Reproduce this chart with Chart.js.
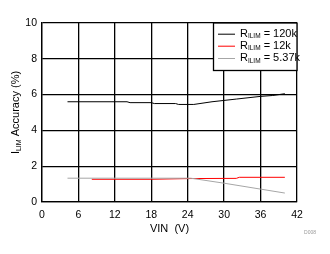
<!DOCTYPE html>
<html>
<head>
<meta charset="utf-8">
<script src="https://cdn.jsdelivr.net/npm/chart.js@4.4.1/dist/chart.umd.min.js"></script>
<style>
  html, body { margin: 0; padding: 0; background: #fff; }
  #wrap { width: 330px; height: 254px; position: relative; }
</style>
</head>
<body>
<div id="wrap"><canvas id="c" width="330" height="254"></canvas></div>
<script>
// data
var xTicks = [0, 6, 12, 18, 24, 30, 36, 42];
var yTicks = [0, 2, 4, 6, 8, 10];

var vin120k = [4.2, 14, 14.5, 18, 18.5, 22, 22.5, 25, 28, 32, 36, 38, 40];
var acc120k = [5.6, 5.6, 5.55, 5.55, 5.5, 5.5, 5.45, 5.45, 5.6, 5.75, 5.9, 5.95, 6.05];

var vin12k = [8.2, 18, 24.5, 32, 32.5, 40];
var acc12k = [1.27, 1.27, 1.31, 1.32, 1.38, 1.38];

var vin537k = [4.2, 24.5, 30, 36, 40];
var acc537k = [1.33, 1.33, 1.05, 0.72, 0.5];

var seriesNames = ['120k', '12k', '5.37k'];
var seriesColors = ['#000000', '#ff0000', '#a6a6a6'];

function pts(xs, ys) {
    return xs.map(function (x, i) { return { x: x, y: ys[i] }; });
}

var FONT = '"Liberation Sans", Arial, sans-serif';

var extras = {
    id: 'extras',
    afterDraw: function (chart) {
        var ctx = chart.ctx;
        var a = chart.chartArea;
        ctx.save();

        // y axis title with subscript
        ctx.translate(16, (a.top + a.bottom) / 2);
        ctx.rotate(-Math.PI / 2);
        ctx.fillStyle = '#000';
        ctx.textBaseline = 'middle';
        var big = '11px ' + FONT, small = '7px ' + FONT;
        ctx.font = big; var w1 = ctx.measureText('I').width;
        ctx.font = small; var w2 = ctx.measureText('LIM').width;
        ctx.font = big; var w3 = ctx.measureText(' Accuracy (%)').width;
        var x0 = -(w1 + w2 + w3) / 2;
        ctx.font = big; ctx.fillText('I', x0, 0);
        ctx.font = small; ctx.fillText('LIM', x0 + w1, 3);
        ctx.font = big; ctx.fillText(' Accuracy (%)', x0 + w1 + w2, 0);
        ctx.restore();

        // legend box
        ctx.save();
        var bx = 213.5, by = a.top, bw = a.right - 213.5, bh = 47.5;
        ctx.fillStyle = '#fff';
        ctx.fillRect(bx, by, bw, bh);
        ctx.strokeStyle = '#000';
        ctx.lineWidth = 1.3;
        ctx.strokeRect(bx, by, bw, bh);
        ctx.textBaseline = 'middle';
        var rows = [33.7, 45.7, 58];
        var lbig = '11px ' + FONT;
        seriesNames.forEach(function (n, i) {
            var y = rows[i];
            ctx.strokeStyle = seriesColors[i];
            ctx.lineWidth = 1;
            ctx.beginPath();
            ctx.moveTo(218, y + 0.5);
            ctx.lineTo(235, y + 0.5);
            ctx.stroke();
            ctx.fillStyle = '#000';
            var x = 240;
            ctx.font = lbig; ctx.fillText('R', x, y); x += ctx.measureText('R').width;
            ctx.font = '6.5px ' + FONT; ctx.fillText('ILIM', x, y + 3); x += ctx.measureText('ILIM').width;
            ctx.font = lbig; ctx.fillText(' = ' + n, x, y);
        });

        // figure id
        ctx.font = '5px ' + FONT;
        ctx.fillStyle = '#999';
        ctx.textAlign = 'right';
        ctx.fillText('D008', 316, 233);
        ctx.restore();
    }
};

new Chart(document.getElementById('c'), {
    type: 'scatter',
    data: {
        datasets: [
            { label: seriesNames[0], data: pts(vin120k, acc120k), borderColor: seriesColors[0], order: 0 },
            { label: seriesNames[1], data: pts(vin12k, acc12k), borderColor: seriesColors[1], order: 2 },
            { label: seriesNames[2], data: pts(vin537k, acc537k), borderColor: seriesColors[2], order: 1 }
        ].map(function (d) {
            d.showLine = true;
            d.borderWidth = 1;
            d.pointRadius = 0;
            d.tension = 0;
            d.fill = false;
            return d;
        })
    },
    options: {
        responsive: false,
        animation: false,
        devicePixelRatio: 1,
        layout: { padding: { top: 23, right: 33, left: 0, bottom: 14 } },
        plugins: { legend: { display: false }, tooltip: { enabled: false } },
        scales: {
            x: {
                type: 'linear', min: 0, max: 42,
                afterBuildTicks: function (s) { s.ticks = xTicks.map(function (v) { return { value: v }; }); },
                afterFit: function (s) { s.height = 38; },
                grid: { color: '#000', lineWidth: 1.3, drawTicks: false },
                border: { color: '#000', width: 1.3 },
                ticks: { color: '#000', padding: 7, font: { family: FONT, size: 10.5 } },
                title: { display: true, text: 'VIN  (V)', color: '#000', padding: { top: 0 }, font: { family: FONT, size: 11 } }
            },
            y: {
                type: 'linear', min: 0, max: 10,
                afterBuildTicks: function (s) { s.ticks = yTicks.map(function (v) { return { value: v }; }); },
                afterFit: function (s) { s.width = 42; },
                grid: { color: '#000', lineWidth: 1.3, drawTicks: false },
                border: { color: '#000', width: 1.3 },
                ticks: { color: '#000', padding: 5, font: { family: FONT, size: 10.5 } }
            }
        }
    },
    plugins: [extras]
});
</script>
</body>
</html>
